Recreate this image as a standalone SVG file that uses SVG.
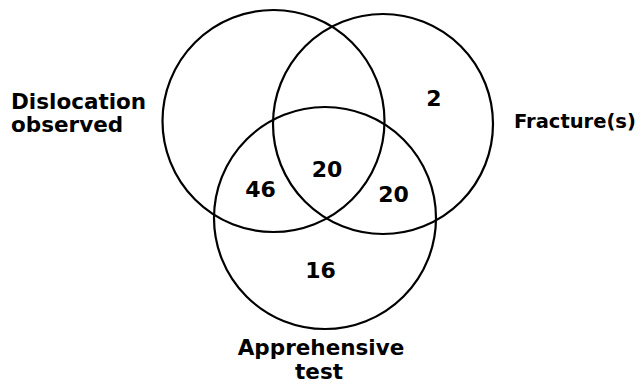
<svg xmlns="http://www.w3.org/2000/svg" width="643" height="386" viewBox="0 0 643 386">
<style>
.c{fill:none;stroke:#000;stroke-width:2.2}
.t{font-family:"DejaVu Sans",sans-serif;font-weight:bold;font-size:21.5px;fill:#000}
.n{font-family:"DejaVu Sans",sans-serif;font-weight:bold;font-size:22px;fill:#000;text-anchor:middle}
</style>
<rect width="643" height="386" fill="#fff"/>
<g id="dislocation">
<circle class="c" cx="273.5" cy="121" r="111"/>
<text class="t" x="11" y="109">Dislocation</text>
<text class="t" x="11" y="132">observed</text>
</g>
<g id="fractures">
<circle class="c" cx="383" cy="124" r="110"/>
<text class="t" x="514" y="128" style="font-size:19.5px">Fracture(s)</text>
</g>
<g id="apprehensive">
<circle class="c" cx="325" cy="218" r="111"/>
<text class="t" x="321" y="355" text-anchor="middle">Apprehensive</text>
<text class="t" x="319" y="379" text-anchor="middle">test</text>
</g>
<g id="counts">
<text class="n" x="434" y="106">2</text>
<text class="n" x="327" y="177">20</text>
<text class="n" x="260.5" y="197">46</text>
<text class="n" x="393.5" y="202">20</text>
<text class="n" x="320.5" y="278">16</text>
</g>
</svg>
